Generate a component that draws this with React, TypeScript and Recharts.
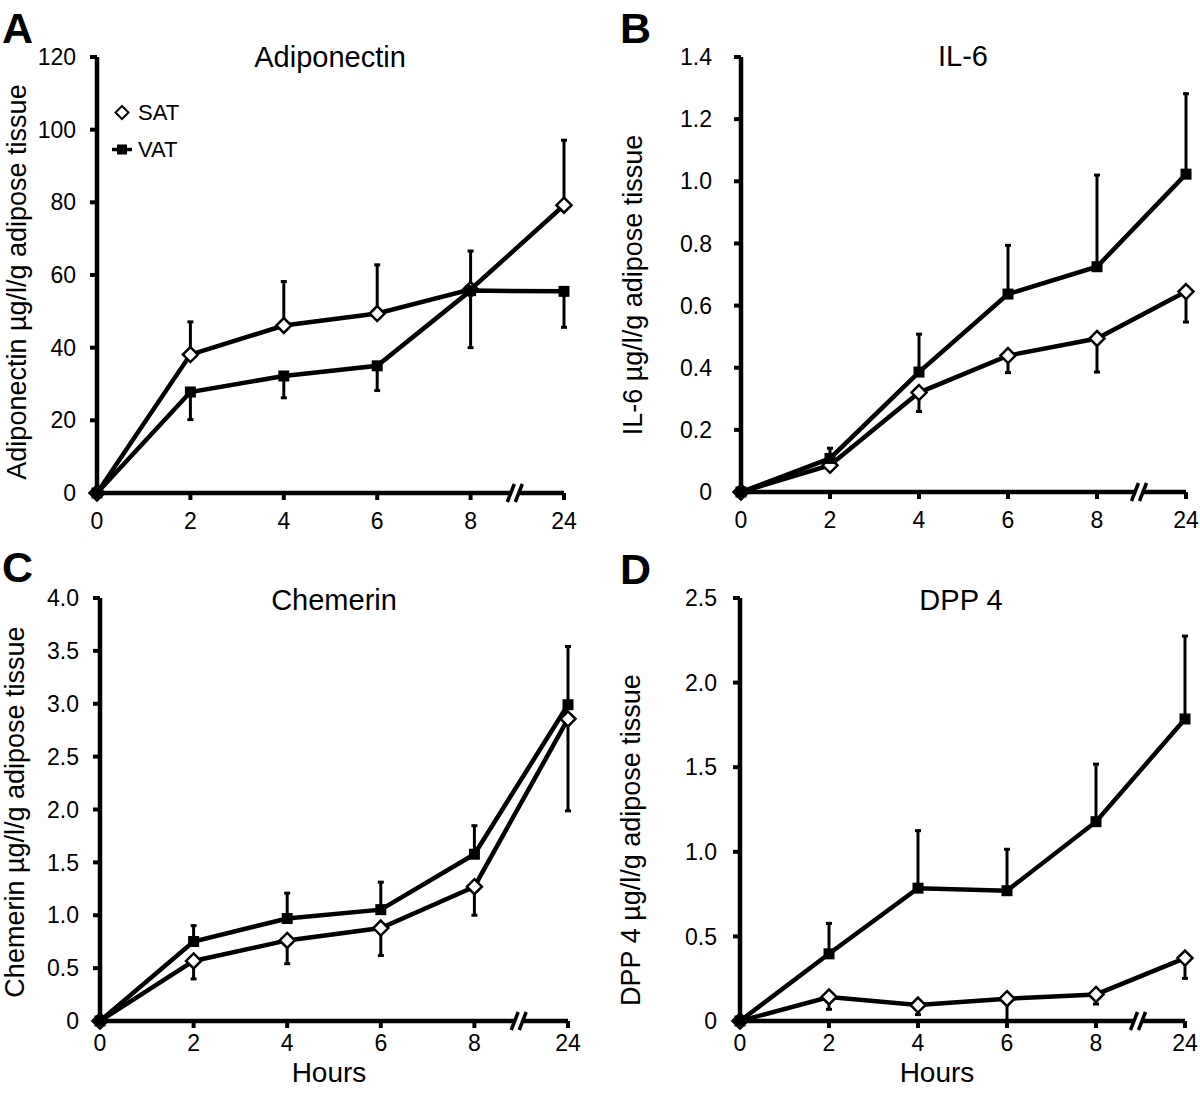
import React from 'react';
import { LineChart, Line, XAxis, YAxis, ErrorBar, ReferenceDot, Legend } from 'recharts';

const FONT = '"Liberation Sans", Arial, Helvetica, sans-serif';

// x categories (hours) and series names
const HOURS = ['0', '2', '4', '6', '8', '24'];
const SERIES = ['SAT', 'VAT'];

// A: Adiponectin
const ADIPO_SAT = [0, 38.1, 46.1, 49.4, 56.0, 79.2];
const ADIPO_SAT_ERR = [0, 9.0, 12.1, 13.4, 10.6, 17.9];
const ADIPO_VAT = [0, 27.8, 32.2, 35.0, 55.7, 55.5];
const ADIPO_VAT_ERR = [0, 7.6, 6.0, 6.8, 15.7, 9.9];
const ADIPO_TICKS = [0, 20, 40, 60, 80, 100, 120];

// B: IL-6
const IL6_SAT = [0, 0.086, 0.32, 0.439, 0.494, 0.645];
const IL6_SAT_ERR = [0, 0.011, 0.061, 0.055, 0.108, 0.098];
const IL6_VAT = [0, 0.108, 0.386, 0.637, 0.725, 1.023];
const IL6_VAT_ERR = [0, 0.033, 0.122, 0.157, 0.295, 0.259];
const IL6_TICKS = [0, 0.2, 0.4, 0.6, 0.8, 1.0, 1.2, 1.4];

// C: Chemerin
const CHEM_SAT = [0, 0.568, 0.762, 0.879, 1.27, 2.857];
const CHEM_SAT_ERR = [0, 0.17, 0.22, 0.26, 0.27, 0.87];
const CHEM_VAT = [0, 0.752, 0.969, 1.053, 1.577, 2.991];
const CHEM_VAT_ERR = [0, 0.15, 0.24, 0.26, 0.27, 0.55];
const CHEM_TICKS = [0, 0.5, 1.0, 1.5, 2.0, 2.5, 3.0, 3.5, 4.0];

// D: DPP 4
const DPP_SAT = [0, 0.142, 0.094, 0.132, 0.157, 0.372];
const DPP_SAT_ERR = [0, 0.073, 0.056, 0.13, 0.057, 0.12];
const DPP_VAT = [0, 0.397, 0.785, 0.77, 1.178, 1.785];
const DPP_VAT_ERR = [0, 0.18, 0.34, 0.245, 0.34, 0.49];
const DPP_TICKS = [0, 0.5, 1.0, 1.5, 2.0, 2.5];

type Dir = 'up' | 'down';

function buildRows(sat: number[], satErr: number[], satDir: Dir, vat: number[], vatErr: number[], vatDir: Dir) {
  const mk = (e: number, d: Dir) => (e > 0 ? (d === 'up' ? [0, e] : [e, 0]) : null);
  return HOURS.map((h, i) => ({
    x: i,
    hour: h,
    sat: sat[i],
    vat: vat[i],
    satErr: mk(satErr[i], satDir),
    vatErr: mk(vatErr[i], vatDir),
  }));
}

const DiamondDot = (props: any) => {
  const { cx, cy, index } = props;
  if (cx == null || cy == null) return <g key={`d${index}`} />;
  const r = 7.5;
  return (
    <polygon
      key={`d${index}`}
      points={`${cx},${cy - r} ${cx + r},${cy} ${cx},${cy + r} ${cx - r},${cy}`}
      fill="#fff"
      stroke="#000"
      strokeWidth={2.5}
    />
  );
};

const SquareDot = (props: any) => {
  const { cx, cy, index } = props;
  if (cx == null || cy == null) return <g key={`s${index}`} />;
  const s = 11;
  return <rect key={`s${index}`} x={cx - s / 2} y={cy - s / 2} width={s} height={s} fill="#000" />;
};

const BreakMark = (props: any) => {
  const { cx, cy } = props;
  return (
    <g>
      <rect x={cx - 7} y={cy - 4} width={9} height={8} fill="#fff" />
      <line x1={cx - 10} y1={cy + 9} x2={cx - 3} y2={cy - 9} stroke="#000" strokeWidth={3.5} />
      <line x1={cx - 2} y1={cy + 9} x2={cx + 5} y2={cy - 9} stroke="#000" strokeWidth={3.5} />
    </g>
  );
};

const LegendContent = (props: any) => {
  const payload = props.payload || [];
  return (
    <div style={{ fontFamily: FONT, fontSize: 22, color: '#000' }}>
      {payload.map((p: any) => (
        <div key={p.value} style={{ display: 'flex', alignItems: 'center', height: 37 }}>
          <svg width={24} height={37} style={{ marginRight: 4 }}>
            {p.value === 'SAT' ? (
              <polygon points="12,12 18.5,18.5 12,25 5.5,18.5" fill="#fff" stroke="#000" strokeWidth={2} />
            ) : (
              <g>
                <line x1={2} y1={18.5} x2={22} y2={18.5} stroke="#000" strokeWidth={3.5} />
                <rect x={7} y={13.5} width={10} height={10} fill="#000" />
              </g>
            )}
          </svg>
          <span style={{ lineHeight: '37px' }}>{p.value}</span>
        </div>
      ))}
    </div>
  );
};

const fmtDec = (v: number) => (v === 0 ? '0' : v.toFixed(1));
const fmtInt = (v: number) => String(v);

interface PanelProps {
  box: { left: number; top: number; width: number; height: number };
  plot: { left: number; top: number; right: number; bottom: number };
  rows: any[];
  ticks: number[];
  fmt: (v: number) => string;
  xTickMargin: number;
  yTickMargin: number;
  legend?: boolean;
}

const Y_W = 70;
const X_H = 40;

function Panel({ box, plot, rows, ticks, fmt, xTickMargin, yTickMargin, legend }: PanelProps) {
  const margin = {
    top: plot.top - box.top,
    left: plot.left - box.left - Y_W,
    right: box.left + box.width - plot.right,
    bottom: box.top + box.height - plot.bottom - X_H,
  };
  const tickStyle = { fill: '#000', fontSize: 23, fontFamily: FONT };
  return (
    <div style={{ position: 'absolute', left: box.left, top: box.top }}>
      <LineChart width={box.width} height={box.height} data={rows} margin={margin}>
        <XAxis
          dataKey="x"
          type="number"
          domain={[0, HOURS.length - 1]}
          ticks={HOURS.map((_, i) => i)}
          tickFormatter={(i: number) => HOURS[i]}
          interval={0}
          height={X_H}
          axisLine={{ stroke: '#000', strokeWidth: 4.5 }}
          tickLine={{ stroke: '#000', strokeWidth: 4 }}
          tickSize={7}
          tickMargin={xTickMargin}
          tick={tickStyle}
        />
        <YAxis
          type="number"
          domain={[0, ticks[ticks.length - 1]]}
          ticks={ticks}
          tickFormatter={fmt}
          interval={0}
          width={Y_W}
          axisLine={{ stroke: '#000', strokeWidth: 4.5 }}
          tickLine={{ stroke: '#000', strokeWidth: 4 }}
          tickSize={7}
          tickMargin={yTickMargin}
          tick={tickStyle}
        />
        <Line
          dataKey="sat"
          name={SERIES[0]}
          stroke="#000"
          strokeWidth={4.5}
          dot={DiamondDot}
          activeDot={false}
          isAnimationActive={false}
        >
          <ErrorBar dataKey="satErr" width={3} strokeWidth={3} stroke="#000" direction="y" />
        </Line>
        <Line
          dataKey="vat"
          name={SERIES[1]}
          stroke="#000"
          strokeWidth={4.5}
          dot={SquareDot}
          activeDot={false}
          isAnimationActive={false}
        >
          <ErrorBar dataKey="vatErr" width={3} strokeWidth={3} stroke="#000" direction="y" />
        </Line>
        <ReferenceDot x={(HOURS.length - 2) + 0.5} y={0} r={0} shape={BreakMark} ifOverflow="visible" />
        {legend ? (
          <Legend
            layout="vertical"
            align="center"
            verticalAlign="middle"
            content={LegendContent}
            wrapperStyle={{ left: 110, top: 94, width: 'auto' }}
          />
        ) : null}
      </LineChart>
    </div>
  );
}

const textBase: React.CSSProperties = {
  position: 'absolute',
  fontFamily: FONT,
  color: '#000',
  whiteSpace: 'nowrap',
  lineHeight: 1,
};

const Title = ({ text, cx, baseline, size = 29 }: { text: string; cx: number; baseline: number; size?: number }) => (
  <div style={{ ...textBase, fontSize: size, left: cx, top: baseline - 0.8465 * size, transform: 'translateX(-50%)' }}>{text}</div>
);

const Letter = ({ text, left, baseline }: { text: string; left: number; baseline: number }) => (
  <div style={{ ...textBase, fontSize: 43, fontWeight: 'bold', left, top: baseline - 0.8465 * 43 }}>{text}</div>
);

const YLabel = ({ text, cx, cy }: { text: string; cx: number; cy: number }) => (
  <div
    style={{
      ...textBase,
      fontSize: 27,
      left: cx,
      top: cy,
      transform: 'translate(-50%, -50%) rotate(-90deg)',
    }}
  >
    {text}
  </div>
);

export default function App() {
  const rowsA = buildRows(ADIPO_SAT, ADIPO_SAT_ERR, 'up', ADIPO_VAT, ADIPO_VAT_ERR, 'down');
  const rowsB = buildRows(IL6_SAT, IL6_SAT_ERR, 'down', IL6_VAT, IL6_VAT_ERR, 'up');
  const rowsC = buildRows(CHEM_SAT, CHEM_SAT_ERR, 'down', CHEM_VAT, CHEM_VAT_ERR, 'up');
  const rowsD = buildRows(DPP_SAT, DPP_SAT_ERR, 'down', DPP_VAT, DPP_VAT_ERR, 'up');
  return (
    <div style={{ position: 'absolute', left: 0, top: 0, width: 1200, height: 1097, background: '#fff', overflow: 'hidden' }}>
      <Panel
        box={{ left: 0, top: 0, width: 600, height: 540 }}
        plot={{ left: 97, top: 57, right: 564, bottom: 493 }}
        rows={rowsA}
        ticks={ADIPO_TICKS}
        fmt={fmtInt}
        xTickMargin={13}
        yTickMargin={14}
        legend
      />
      <Panel
        box={{ left: 600, top: 0, width: 600, height: 540 }}
        plot={{ left: 741, top: 57, right: 1186, bottom: 492 }}
        rows={rowsB}
        ticks={IL6_TICKS}
        fmt={fmtDec}
        xTickMargin={13}
        yTickMargin={22}
      />
      <Panel
        box={{ left: 0, top: 540, width: 600, height: 557 }}
        plot={{ left: 100, top: 598, right: 568, bottom: 1021 }}
        rows={rowsC}
        ticks={CHEM_TICKS}
        fmt={fmtDec}
        xTickMargin={7}
        yTickMargin={14}
      />
      <Panel
        box={{ left: 600, top: 540, width: 600, height: 557 }}
        plot={{ left: 740, top: 598, right: 1185, bottom: 1021 }}
        rows={rowsD}
        ticks={DPP_TICKS}
        fmt={fmtDec}
        xTickMargin={7}
        yTickMargin={16}
      />

      <Letter text="A" left={2} baseline={43} />
      <Letter text="B" left={620} baseline={43} />
      <Letter text="C" left={2} baseline={582} />
      <Letter text="D" left={620} baseline={584} />

      <Title text="Adiponectin" cx={330} baseline={68} />
      <Title text="IL-6" cx={963} baseline={67} />
      <Title text="Chemerin" cx={334} baseline={611} />
      <Title text="DPP 4" cx={961} baseline={611} />

      <YLabel text="Adiponectin µg/l/g adipose tissue" cx={17} cy={282} />
      <YLabel text="IL-6 µg/l/g adipose tissue" cx={633} cy={285} />
      <YLabel text="Chemerin µg/l/g adipose tissue" cx={15} cy={812} />
      <YLabel text="DPP 4 µg/l/g adipose tissue" cx={631} cy={840} />

      <Title text="Hours" cx={329} baseline={1083} size={28} />
      <Title text="Hours" cx={937} baseline={1083} size={28} />
    </div>
  );
}
